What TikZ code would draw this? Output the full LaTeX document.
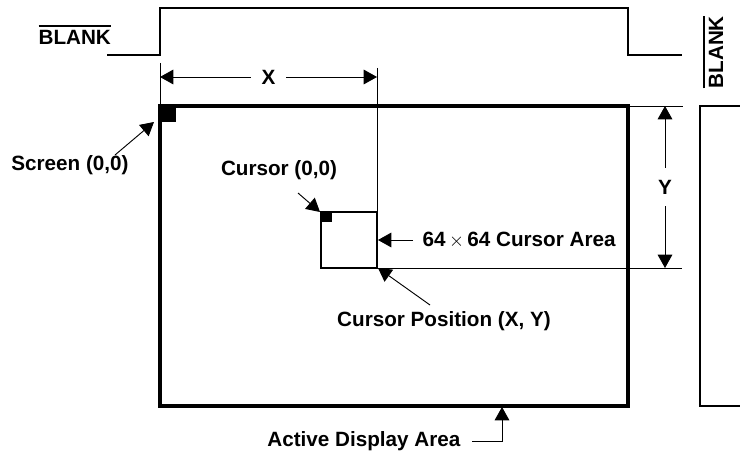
\documentclass[tikz,border=0pt]{standalone}
\usepackage{fontspec}
\setmainfont{Liberation Sans}
\usetikzlibrary{arrows.meta,positioning}

% text with a bar over it (active-low signal)
\newcommand{\lowsig}[1]{\vbox{\hrule height 1.3pt\kern 3pt\hbox{#1}}}

\begin{document}
\begin{tikzpicture}[x=0.75pt,y=-0.75pt,
    lbl/.style={font=\bfseries\fontsize{15.5}{18}\selectfont, inner sep=1pt},
    ext/.style={line width=0.6pt},
    wave/.style={line width=1.5pt},
    frame/.style={line width=2.3pt},
    arr/.style={-{Triangle[length=10pt,width=11pt]}, line width=0.7pt},
    dimarr/.style={{Triangle[length=10pt,width=11pt]}-{Triangle[length=10pt,width=11pt]}, line width=0.7pt}
  ]
    \useasboundingbox (0,0) rectangle (740,453);

    % corners of the active area and the cursor box
    \coordinate (scrTL) at (160,106);
    \coordinate (scrBR) at (628,406);
    \coordinate (curTL) at (321,212);
    \coordinate (curBR) at (377,268);
    \coordinate (curTR) at (377,212);

    % BLANK waveform
    \draw[wave] (107,55) -- (160,55) -- (160,8) -- (628,8) -- (628,55) -- (682,55);
    \node[lbl, anchor=base west] (blankL) at (37,45) {\lowsig{BLANK}};
    \node[lbl, rotate=90, anchor=base west] (blankR) at (723,90) {\lowsig{BLANK}};

    % display areas
    \draw[frame] (scrTL) rectangle (scrBR);
    \fill (scrTL) rectangle +(16,16);
    \draw[line width=1.6pt] (741,106) -- (700,106) -- (700,406) -- (741,406);

    % cursor box
    \draw[line width=2pt] (curTL) rectangle (curBR);
    \fill (curTL) rectangle +(11,10);

    % extension lines
    \draw[ext] (160,63) -- (scrTL);
    \draw[ext] (377,68) -- (curTR);
    \draw[ext] (scrBR |- scrTL) -- (683,106);
    \draw[ext] (curBR) -- (682,268);

    % X and Y dimensions
    \draw[dimarr] (160,77) -- node[lbl, fill=white, inner xsep=8pt] (xlbl) {X} (377,77);
    \draw[dimarr] (665,106) -- node[lbl, fill=white, inner ysep=9pt] (ylbl) {Y} (665,268);

    % labels with pointers
    \node[lbl] (screen) at (70,165) {Screen (0,0)};
    \draw[arr] (115,155) -- (154,122);

    \node[lbl] (cursor) at (279,170) {Cursor (0,0)};
    \draw[arr] (298,193) -- (320,212);

    \node[lbl, anchor=west] (area) at (421,240) {64\,$\times$\,64 Cursor Area};
    \draw[arr] ([xshift=-6pt]area.west) -- (378,240);

    \node[lbl] (pos) at (444,321) {Cursor Position (X, Y)};
    \draw[arr] (430,305) -- (378,268);

    \node[lbl, anchor=east] (active) at (462,441) {Active Display Area};
    \draw[arr] (472,441) -- (502,441) -- (502,407);
  \end{tikzpicture}
\end{document}
